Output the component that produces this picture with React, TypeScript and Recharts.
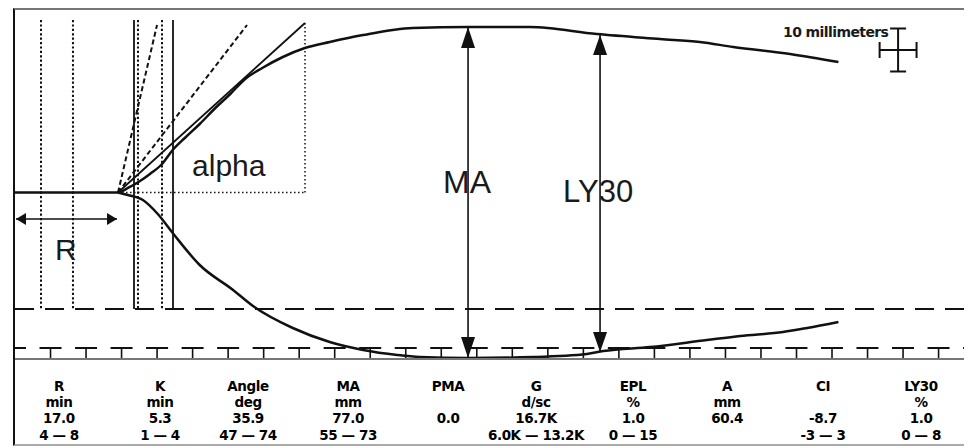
import {
  ComposedChart, Line, XAxis, YAxis, ReferenceLine, ReferenceDot, Scatter, ErrorBar,
} from "recharts";

// x = minutes from start, y = amplitude in mm (+ up / - down from the baseline)
const upperT = [0, 14.5, 15.9, 17.6, 19.0, 20.7, 22.2, 23.9, 26.0, 28.2, 30.3, 32.4, 34.8, 37.7, 40.8, 44.3, 49.0, 56.0, 63.8, 72.5, 81.9, 90.8, 96.4, 101.1, 109.1, 115.9];
const upperMm = [0, 0, 1.05, 2.67, 4.3, 6.63, 9.88, 12.67, 15.93, 19.65, 22.91, 26.4, 28.95, 31.51, 33.6, 35.0, 36.63, 38.26, 38.49, 38.49, 36.86, 35.7, 35.0, 33.84, 32.21, 30.35];
const lowerT = [14.5, 15.9, 18.0, 20.1, 22.2, 26.0, 30.7, 33.5, 39.1, 44.3, 49.0, 53.8, 57.0, 63.8, 72.9, 80.5, 82.8, 89.4, 97.4, 102.1, 108.1, 111.5, 115.9];
const lowerMm = [0, -0.58, -1.74, -5.0, -9.42, -16.86, -22.67, -26.4, -31.51, -34.77, -36.63, -37.79, -38.26, -38.49, -38.26, -37.56, -36.86, -35.93, -34.3, -33.37, -32.44, -31.51, -30.12];

// R / K markers
const dottedMarkT = [3.66, 8.16, 17.31, 20.69];
const solidMarkT = [16.75, 22.24];
const markTop = 40.12;
const markBottom = -27.09;

// tangents from the split point
const splitT = 14.5;
const alphaEnd = { t: 40.82, mm: 39.42 };
const dashedEnds = [{ t: 19.99, mm: 38.95 }, { t: 32.66, mm: 38.95 }];

const rArrow = { mm: -6.16, from: 0.14, to: 14.36 };
const maArrow = { t: 63.77, top: 38.49, bottom: -38.49 };
const ly30Arrow = { t: 82.35, top: 36.63, bottom: -37.09 };

const guideMm = -27.09;
const tickRowMm = -36.16;
const stemTimes = Array.from({ length: 26 }, (_, i) => 5 * (i + 1));

const scaleCross = [{ t: 124.3, mm: 33.14, ex: 2.6, ey: 5 }];

// result table
const paramT = [6.19, 20.41, 32.8, 46.88, 60.95, 73.34, 86.99, 100.23, 113.74, 127.53];
const paramNames = ["R", "K", "Angle", "MA", "PMA", "G", "EPL", "A", "CI", "LY30"];
const paramUnits = ["min", "min", "deg", "mm", "", "d/sc", "%", "mm", "", "%"];
const paramValues = ["17.0", "5.3", "35.9", "77.0", "0.0", "16.7K", "1.0", "60.4", "-8.7", "1.0"];
const paramRanges = ["4 — 8", "1 — 4", "47 — 74", "55 — 73", "", "6.0K — 13.2K", "0 — 15", "", "-3 — 3", "0 — 8"];

const upper = upperT.map((t, i) => ({ t, mm: upperMm[i] }));
const lower = lowerT.map((t, i) => ({ t, mm: lowerMm[i] }));

const INK = "#111";
const tableFont = "'DejaVu Sans', sans-serif";
const labelFont = "'Liberation Sans', Arial, sans-serif";

function Arrow(props: any) {
  const { x1, y1, x2, y2, head = 10, half = 5 } = props;
  const dx = x2 - x1;
  const dy = y2 - y1;
  const len = Math.hypot(dx, dy) || 1;
  const ux = dx / len, uy = dy / len;
  const px = -uy, py = ux;
  const tip = (x: number, y: number, s: number) => {
    const bx = x - s * ux * head, by = y - s * uy * head;
    return `${x},${y} ${bx + px * half},${by + py * half} ${bx - px * half},${by - py * half}`;
  };
  return (
    <g>
      <line x1={x1} y1={y1} x2={x2} y2={y2} stroke={INK} strokeWidth={1.6} />
      <polygon points={tip(x2, y2, 1)} fill={INK} />
      <polygon points={tip(x1, y1, -1)} fill={INK} />
    </g>
  );
}

const word = (text: string, size: number, family = labelFont, spacing = 0, weight = "normal") => (p: any) => (
  <text x={p.cx} y={p.cy} fontSize={size} fontFamily={family} letterSpacing={spacing}
    fontWeight={weight} fill="#1a1a1a">
    {text}
  </text>
);

function ParamTick(props: any) {
  const { x, y, payload } = props;
  const i = paramT.indexOf(payload.value);
  if (i < 0) return null;
  const rows = [paramNames[i], paramUnits[i], paramValues[i], paramRanges[i]];
  const base = [32, 47.5, 63.5, 80.5];
  return (
    <g>
      {rows.map((r, k) => (
        <text key={k} x={x} y={y + base[k]} textAnchor="middle" fontSize={13.5} fontWeight="bold"
          fontFamily={tableFont} letterSpacing={-0.4} fill="#000">
          {r}
        </text>
      ))}
    </g>
  );
}

export default function App() {
  return (
    <div style={{
      marginLeft: 5, width: 952, height: 434, background: "#fff",
      borderLeft: "2px solid #111", borderTop: "2px solid #777",
      borderRight: "2px solid #555", borderBottom: "2px solid #aaa",
    }}>
      <ComposedChart width={952} height={434} margin={{ top: 0, right: 0, bottom: 0, left: 0 }}>
        <XAxis dataKey="t" type="number" domain={[0, 134]} allowDataOverflow
          ticks={paramT} interval={0} height={85} tickSize={0} tickMargin={0}
          tickLine={false} axisLine={{ stroke: "#777", strokeWidth: 2 }} tick={<ParamTick />} />
        <YAxis hide type="number" domain={[-38.72, 42.44]} allowDataOverflow />

        {dottedMarkT.map((t) => (
          <ReferenceLine key={"d" + t} segment={[{ x: t, y: markTop }, { x: t, y: markBottom }]}
            stroke={INK} strokeWidth={2} strokeDasharray="2.2 2.2" ifOverflow="visible" />
        ))}
        {solidMarkT.map((t) => (
          <ReferenceLine key={"s" + t} segment={[{ x: t, y: markTop }, { x: t, y: markBottom }]}
            stroke={INK} strokeWidth={1.8} ifOverflow="visible" />
        ))}

        <ReferenceLine y={guideMm} stroke={INK} strokeWidth={2} strokeDasharray="19 11" />
        <ReferenceLine y={tickRowMm} stroke={INK} strokeWidth={2} strokeDasharray="22 13.52" strokeDashoffset={11} />
        {stemTimes.map((t) => (
          <ReferenceLine key={"st" + t} segment={[{ x: t, y: tickRowMm }, { x: t, y: -38.6 }]}
            stroke={INK} strokeWidth={1.6} ifOverflow="visible" />
        ))}

        <ReferenceLine segment={[{ x: splitT, y: 0 }, { x: alphaEnd.t, y: alphaEnd.mm }]}
          stroke={INK} strokeWidth={1.8} ifOverflow="visible" />
        <ReferenceLine segment={[{ x: alphaEnd.t, y: alphaEnd.mm }, { x: alphaEnd.t, y: 0 }]}
          stroke={INK} strokeWidth={1.5} strokeDasharray="1.5 2.5" ifOverflow="visible" />
        <ReferenceLine segment={[{ x: splitT, y: 0 }, { x: alphaEnd.t, y: 0 }]}
          stroke={INK} strokeWidth={1.5} strokeDasharray="1.5 2.5" ifOverflow="visible" />
        {dashedEnds.map((e) => (
          <ReferenceLine key={"tg" + e.t} segment={[{ x: splitT, y: 0 }, { x: e.t, y: e.mm }]}
            stroke={INK} strokeWidth={2} strokeDasharray="5 3" ifOverflow="visible" />
        ))}

        <Line data={upper} dataKey="mm" type="monotone" stroke={INK} strokeWidth={2.5}
          dot={false} isAnimationActive={false} />
        <Line data={lower} dataKey="mm" type="monotone" stroke={INK} strokeWidth={2.5}
          dot={false} isAnimationActive={false} />

        <ReferenceLine segment={[{ x: rArrow.from, y: rArrow.mm }, { x: rArrow.to, y: rArrow.mm }]}
          ifOverflow="visible" shape={(p: any) => <Arrow {...p} head={10} half={6} />} />
        <ReferenceLine segment={[{ x: maArrow.t, y: maArrow.top }, { x: maArrow.t, y: maArrow.bottom }]}
          ifOverflow="visible" shape={(p: any) => <Arrow {...p} head={21} half={7} />} />
        <ReferenceLine segment={[{ x: ly30Arrow.t, y: ly30Arrow.top }, { x: ly30Arrow.t, y: ly30Arrow.bottom }]}
          ifOverflow="visible" shape={(p: any) => <Arrow {...p} head={20} half={7} />} />

        <Scatter data={scaleCross} dataKey="mm" isAnimationActive={false} shape={() => <g />}>
          <ErrorBar dataKey="ey" direction="y" width={8} stroke={INK} strokeWidth={2} />
          <ErrorBar dataKey="ex" direction="x" width={8} stroke={INK} strokeWidth={2} />
        </Scatter>

        <ReferenceDot x={24.92} y={3.84} r={0} ifOverflow="visible" shape={word("alpha", 30)} />
        <ReferenceDot x={60.25} y={-0.12} r={0} ifOverflow="visible" shape={word("MA", 32)} />
        <ReferenceDot x={77.14} y={-2.21} r={0} ifOverflow="visible" shape={word("LY30", 31)} />
        <ReferenceDot x={5.63} y={-15.7} r={0} ifOverflow="visible" shape={word("R", 30)} />
        <ReferenceDot x={108.11} y={36.16} r={0} ifOverflow="visible"
          shape={word("10 millimeters", 14, tableFont, -0.6, "bold")} />
      </ComposedChart>
    </div>
  );
}
